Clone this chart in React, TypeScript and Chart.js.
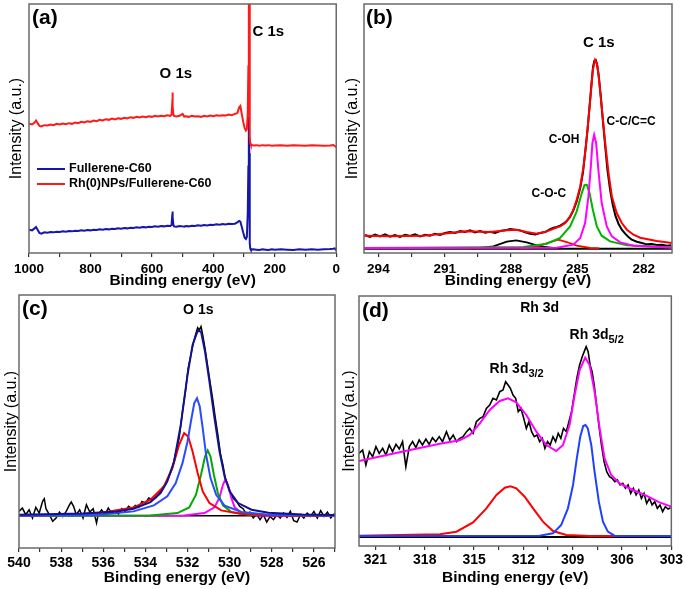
import React, { useEffect, useRef } from 'react';
import { Chart, registerables } from 'chart.js';

Chart.register(...registerables);

const FONT = '"Liberation Sans", Arial, Helvetica, sans-serif';
Chart.defaults.font.family = FONT;

// ---------------- Panel (a): survey spectra ----------------
const aEnergy = [1000,990,982,977,972,966,960,950,940,930,920,910,900,890,880,870,860,850,840,830,820,810,800,790,780,770,760,750,740,730,720,710,700,690,680,670,660,650,640,630,620,610,600,590,580,570,560,550,540,536,534,533,532,530,528,520,510,500,495,490,480,470,460,450,440,430,420,410,400,390,380,370,360,350,340,330,322,316,312,308,303,298,294,291,288,286,285,284,283,282,281,280,278,270,260,250,240,230,220,210,200,180,160,140,120,100,80,60,40,20,10,5,0];
const aRhFullerene = [388,386,392,398,390,382,380,384,383,386,384,388,386,389,387,390,388,392,390,394,392,396,394,398,396,400,398,402,400,404,401,405,403,406,404,408,406,409,407,410,408,411,409,412,410,412,411,414,412,415,445,482,440,416,412,410,412,418,410,411,409,412,410,411,409,412,410,413,411,414,412,414,413,416,414,418,420,438,442,420,395,375,368,372,420,560,760,900,820,500,350,330,325,323,324,322,324,323,324,322,323,324,322,324,323,322,324,323,322,323,324,322,318];
const aFullerene = [70,68,74,78,70,60,58,62,61,63,62,64,63,65,64,66,65,67,66,68,67,69,68,70,69,71,70,72,71,73,72,74,73,75,74,76,75,77,76,78,77,79,78,80,79,81,80,82,81,84,110,125,108,84,80,79,81,80,79,81,80,82,81,83,82,84,83,85,84,86,85,87,86,88,87,88,92,96,94,80,62,46,42,48,120,260,380,410,300,120,30,14,10,11,10,9,11,10,9,11,10,11,10,9,11,10,11,10,11,12,13,14,8];
const aMajorTicks = [1000, 800, 600, 400, 200, 0];
const aMinorTicks = [900, 700, 500, 300, 100];

// ---------------- Panel (b): C 1s ----------------
const bRawEnergy = [294.60,294.38,294.15,293.92,293.70,293.47,293.25,293.02,292.79,292.57,292.34,292.11,291.89,291.66,291.44,291.21,290.98,290.76,290.53,290.30,290.08,289.85,289.63,289.40,289.17,288.95,288.72,288.49,288.27,288.04,287.82,287.59,287.36,287.14,286.91,286.68,286.46,286.23,286.08,285.93,285.78,285.63,285.48,285.33,285.18,285.03,284.87,284.75,284.65,284.54,284.45,284.36,284.29,284.23,284.17,284.11,284.03,283.94,283.85,283.74,283.64,283.52,283.40,283.28,283.14,282.99,282.84,282.69,282.54,282.31,282.08,281.86,281.63,281.41,281.18,280.95,280.76];
const bRawIntensity = [54,48,55,50,56,49,54,48,55,51,56,50,55,52,58,54,60,63,60,66,63,68,62,66,61,64,60,66,68,72,70,68,62,58,56,60,63,72,76,78,82,88,96,108,128,155,195,240,300,370,440,510,560,578,580,568,530,470,400,320,250,190,145,112,88,70,58,48,40,34,30,26,27,24,25,22,23];
const bFitEnergy = [294.65,293.47,291.96,290.76,290.0,288.95,288.19,287.77,287.29,286.84,286.38,286.0,285.78,285.55,285.33,285.18,285.03,284.87,284.72,284.6,284.5,284.39,284.3,284.2,284.12,284.05,283.9,283.74,283.59,283.44,283.22,282.99,282.76,282.46,282.16,281.41,280.72];
const bFitIntensity = [52,50,52,60,65,63,68,70,63,58,65,75,80,90,110,130,160,200,260,330,400,480,550,580,570,540,440,330,240,170,120,90,70,55,46,36,30];
const bCCEnergy = [294.65,285.93,285.18,284.87,284.65,284.5,284.39,284.32,284.24,284.15,284.05,283.9,283.67,283.44,283.06,282.46,281.41,280.72];
const bCCIntensity = [15,16,25,45,90,170,260,330,355,330,250,150,80,50,32,22,18,16];
const bCOHEnergy = [294.65,287.44,286.38,285.78,285.33,285.03,284.8,284.68,284.57,284.45,284.3,284.12,283.9,283.52,282.76,280.72];
const bCOHIntensity = [15,18,28,45,80,125,180,204,205,180,130,80,52,35,23,17];
const bCOCEnergy = [287.6,287.29,286.69,286.23,285.86,285.48,285.03,284.42,284.0];
const bCOCIntensity = [14,15,22,33,40,33,22,15,14];
const bCOEnergy = [289.8,289.4,288.8,288.19,287.77,287.29,286.69,286.08,285.7];
const bCOIntensity = [14,15,20,34,38,32,20,15,14];
const bBaseEnergy = [294.65, 280.72];
const bBaseIntensity = [13, 13];
const bMajorTicks = [294, 291, 288, 285, 282];
const bMinorTicks = [292.5, 289.5, 286.5, 283.5];

// ---------------- Panel (c): O 1s ----------------
const cRawEnergy = [540.00,539.84,539.68,539.52,539.36,539.20,539.04,538.88,538.80,538.72,538.56,538.40,538.24,538.08,537.92,537.76,537.60,537.52,537.41,537.28,537.12,536.96,536.80,536.64,536.48,536.32,536.24,536.08,535.92,535.76,535.60,535.44,535.28,535.12,534.96,534.80,534.64,534.48,534.32,534.16,534.00,533.84,533.68,533.52,533.36,533.20,533.04,532.88,532.72,532.56,532.40,532.24,532.08,531.97,531.84,531.71,531.60,531.52,531.44,531.36,531.28,531.17,531.04,530.91,530.80,530.69,530.56,530.43,530.32,530.21,530.08,529.95,529.84,529.68,529.52,529.36,529.20,529.04,528.88,528.72,528.56,528.40,528.24,528.08,527.92,527.76,527.60,527.44,527.28,527.12,526.96,526.80,526.64,526.48,526.32,526.16,526.00,525.84,525.68,525.52,525.36,525.20,525.04,525.00];
const cRawIntensity = [110,120,100,115,90,122,105,140,148,118,100,80,90,108,95,110,130,138,125,100,115,90,130,108,118,75,100,115,100,120,105,112,102,118,110,125,118,128,122,140,135,150,145,150,162,180,192,215,240,285,330,410,480,540,580,620,645,662,655,665,640,600,545,490,445,395,340,280,250,210,188,165,150,140,125,118,100,108,90,102,85,100,78,95,85,100,90,105,92,110,82,78,100,90,105,95,110,90,112,95,108,90,102,98];
const cEnvEnergy = [540,536.96,535.36,534.56,533.76,533.28,532.96,532.64,532.32,532.0,531.76,531.52,531.36,531.17,530.96,530.72,530.48,530.24,530.0,529.6,528.96,528.16,526.56,525];
const cEnvIntensity = [100,104,110,118,138,165,200,260,370,520,610,652,650,590,500,390,290,215,170,135,115,106,101,99];
const cBlueEnergy = [540,536.16,534.56,533.6,532.96,532.56,532.24,532.0,531.84,531.68,531.55,531.42,531.28,531.12,530.91,530.64,530.24,529.44,528.16,525];
const cBlueIntensity = [97,100,110,128,155,195,255,320,380,435,450,425,360,280,210,160,127,108,100,97];
const cRedEnergy = [540,537.76,536.16,534.56,533.76,533.12,532.72,532.4,532.16,531.97,531.76,531.52,531.28,530.96,530.4,529.44,528.16,525];
const cRedIntensity = [97,100,105,122,145,185,240,310,345,335,290,225,170,135,113,102,98,97];
const cGreenEnergy = [540,533.76,532.48,531.92,531.6,531.36,531.17,531.04,530.91,530.75,530.56,530.32,529.92,529.12,525];
const cGreenIntensity = [97,98,105,122,160,220,275,293,275,220,165,128,108,100,97];
const cPinkEnergy = [540,532.16,531.2,530.72,530.48,530.32,530.21,530.08,529.92,529.76,529.44,528.64,525];
const cPinkIntensity = [97,98,105,122,152,190,205,190,150,122,105,98,97];
const cBaseEnergy = [540, 525];
const cBaseIntensity = [97, 97];
const cMajorTicks = [540, 538, 536, 534, 532, 530, 528, 526];
const cMinorTicks = [539, 537, 535, 533, 531, 529, 527, 525];

// ---------------- Panel (d): Rh 3d ----------------
const dRawEnergy = [322.00,321.78,321.58,321.37,321.17,320.97,320.77,320.56,320.36,320.16,319.96,319.75,319.55,319.35,319.15,318.94,318.74,318.54,318.34,318.14,317.93,317.73,317.53,317.33,317.12,316.92,316.68,316.48,316.27,316.07,315.87,315.67,315.46,315.26,315.06,314.86,314.65,314.45,314.25,314.05,313.85,313.64,313.44,313.24,313.08,312.93,312.79,312.63,312.47,312.31,312.15,311.98,311.82,311.66,311.50,311.34,311.17,311.01,310.85,310.69,310.53,310.37,310.20,310.04,309.88,309.72,309.56,309.39,309.23,309.07,308.91,308.75,308.58,308.42,308.30,308.18,308.06,307.94,307.82,307.69,307.57,307.41,307.25,307.09,306.93,306.76,306.60,306.44,306.28,306.12,305.95,305.79,305.63,305.47,305.31,305.14,304.98,304.82,304.66,304.50,304.33,304.17,304.01,303.85,303.69,303.53,303.36,303.20,303.04];
const dRawIntensity = [278,288,243,283,268,298,278,293,273,303,283,305,291,313,238,298,313,295,318,303,321,305,325,313,328,313,343,318,333,313,323,328,343,353,338,373,383,388,413,423,443,438,463,468,493,483,473,453,443,403,413,383,353,373,343,328,333,313,323,293,313,303,328,313,338,323,353,343,373,403,453,503,543,568,583,598,583,543,523,483,433,363,303,253,223,208,203,193,198,183,188,173,183,158,173,153,168,143,158,128,143,123,133,113,123,103,118,111,115];
const dFitEnergy = [322,319.11,317.08,315.87,315.26,314.65,314.05,313.44,312.93,312.43,311.82,311.21,310.6,310.0,309.59,309.19,308.88,308.58,308.24,307.97,307.67,307.36,307.06,306.66,306.15,305.34,304.53,303.72,303.0];
const dFitIntensity = [255,286,307,317,333,368,408,435,443,431,393,343,303,285,303,363,453,528,565,543,463,353,263,213,188,168,151,131,118];
const d32Energy = [322,317.08,316.07,315.06,314.25,313.64,313.13,312.79,312.43,311.92,311.41,310.81,310.2,309.39,307.97,303];
const d32Intensity = [31,35,43,71,113,153,175,179,173,148,113,73,45,33,30,30];
const d52Energy = [322,311.01,310.2,309.7,309.29,308.98,308.75,308.54,308.36,308.22,308.08,307.87,307.67,307.41,307.16,306.86,306.46,303];
const d52Intensity = [30,31,38,63,113,183,263,328,360,363,353,303,223,133,73,43,31,30];
const dBaseEnergy = [322, 303];
const dBaseIntensity = [27, 27];
const dMajorTicks = [321, 318, 315, 312, 309, 306, 303];
const dMinorTicks = [319.5, 316.5, 313.5, 310.5, 307.5, 304.5];

// ---------------- Helpers ----------------
type Pt = { x: number; y: number };
const pts = (xs: number[], ys: number[]): Pt[] => xs.map((x, i) => ({ x, y: ys[i] }));

const line = (label: string, xs: number[], ys: number[], color: string, width: number, order: number) => ({
  label,
  data: pts(xs, ys),
  borderColor: color,
  backgroundColor: color,
  borderWidth: width,
  pointRadius: 0,
  pointHoverRadius: 0,
  tension: 0,
  fill: false,
  order,
});

interface TextSpec { text: string; sub?: string; x: number; y: number; size: number; subSize?: number }
interface DecorSpec {
  letter: string;
  letterDx: number;
  letterDy: number;
  texts: TextSpec[];
  legend?: { dx: number; dy: number; gap: number };
}

const decorPlugin = (spec: DecorSpec) => ({
  id: 'decor',
  afterDraw(chart: any) {
    const { ctx, chartArea: ca, scales } = chart;
    ctx.save();
    ctx.strokeStyle = '#6a6a6a';
    ctx.lineWidth = 1.5;
    ctx.strokeRect(ca.left, ca.top, ca.right - ca.left, ca.bottom - ca.top);

    ctx.fillStyle = '#000';
    ctx.font = `bold 21px ${FONT}`;
    ctx.textAlign = 'left';
    ctx.textBaseline = 'top';
    ctx.fillText(spec.letter, ca.left + spec.letterDx, ca.top + spec.letterDy);

    for (const t of spec.texts) {
      const px = scales.x.getPixelForValue(t.x);
      const py = scales.y.getPixelForValue(t.y);
      ctx.font = `bold ${t.size}px ${FONT}`;
      const wMain = ctx.measureText(t.text).width;
      let wSub = 0;
      if (t.sub) {
        ctx.font = `bold ${t.subSize}px ${FONT}`;
        wSub = ctx.measureText(t.sub).width;
      }
      const x0 = px - (wMain + wSub) / 2;
      ctx.textBaseline = 'middle';
      ctx.textAlign = 'left';
      ctx.font = `bold ${t.size}px ${FONT}`;
      ctx.fillText(t.text, x0, py);
      if (t.sub) {
        ctx.font = `bold ${t.subSize}px ${FONT}`;
        ctx.fillText(t.sub, x0 + wMain, py + t.size * 0.35);
      }
    }

    if (spec.legend) {
      const lg = spec.legend;
      chart.data.datasets.forEach((ds: any, i: number) => {
        const y = ca.top + lg.dy + i * lg.gap;
        ctx.strokeStyle = ds.borderColor;
        ctx.lineWidth = 2;
        ctx.beginPath();
        ctx.moveTo(ca.left + lg.dx, y);
        ctx.lineTo(ca.left + lg.dx + 28, y);
        ctx.stroke();
        ctx.fillStyle = '#000';
        ctx.font = `bold 12.5px ${FONT}`;
        ctx.textBaseline = 'middle';
        ctx.textAlign = 'left';
        ctx.fillText(ds.label, ca.left + lg.dx + 32, y);
      });
    }
    ctx.restore();
  },
});

interface PanelSpec {
  datasets: any[];
  xMin: number; xMax: number; yMax: number;
  major: number[]; minor: number[];
  tickSize: number; tickPad: number;
  padTop: number; padRight: number;
  xHeight: number; yWidth: number;
  xTitlePad: number; yTitlePad: number;
  decor: DecorSpec;
}

const buildConfig = (p: PanelSpec): any => ({
  type: 'line',
  data: { datasets: p.datasets },
  options: {
    animation: false,
    responsive: false,
    maintainAspectRatio: false,
    events: [],
    layout: { padding: { top: p.padTop, right: p.padRight, bottom: 0, left: 0 } },
    plugins: { legend: { display: false }, tooltip: { enabled: false } },
    scales: {
      x: {
        type: 'linear',
        reverse: true,
        min: p.xMin,
        max: p.xMax,
        afterBuildTicks: (s: any) => {
          s.ticks = [...p.major, ...p.minor].sort((a, b) => b - a).map((v) => ({ value: v }));
        },
        afterFit: (s: any) => { s.height = p.xHeight; },
        ticks: {
          autoSkip: false,
          maxRotation: 0,
          minRotation: 0,
          padding: p.tickPad,
          color: '#000',
          font: { family: FONT, size: p.tickSize, weight: 'bold' },
          callback: (v: number) => (p.major.includes(v) ? String(v) : ''),
        },
        grid: { display: true, drawOnChartArea: false, drawTicks: true, tickLength: 4, color: '#333', lineWidth: 1.2 },
        border: { display: false },
        title: {
          display: true,
          text: 'Binding energy (eV)',
          color: '#000',
          font: { family: FONT, size: 15.5, weight: 'bold' },
          padding: { top: 0, bottom: p.xTitlePad },
        },
      },
      y: {
        type: 'linear',
        min: 0,
        max: p.yMax,
        afterFit: (s: any) => { s.width = p.yWidth; },
        ticks: { display: false },
        grid: { display: false },
        border: { display: false },
        title: {
          display: true,
          text: 'Intensity (a.u.)',
          color: '#000',
          font: { family: FONT, size: 16, weight: 'normal' },
          padding: { top: p.yTitlePad, bottom: 0 },
        },
      },
    },
  },
  plugins: [decorPlugin(p.decor)],
});

const panelA = (): PanelSpec => ({
  datasets: [
    line('Fullerene-C60', aEnergy, aFullerene, '#1616a8', 2, 2),
    line('Rh(0)NPs/Fullerene-C60', aEnergy, aRhFullerene, '#ff1a1a', 2, 1),
  ],
  xMin: 0, xMax: 1000, yMax: 748,
  major: aMajorTicks, minor: aMinorTicks,
  tickSize: 13.5, tickPad: 4,
  padTop: 4, padRight: 4, xHeight: 37, yWidth: 29,
  xTitlePad: 0, yTitlePad: 7,
  decor: {
    letter: '(a)', letterDx: 3, letterDy: 4,
    texts: [
      { text: 'C 1s', x: 221, y: 663, size: 15 },
      { text: 'O 1s', x: 522, y: 538, size: 15 },
    ],
    legend: { dx: 8, dy: 165, gap: 15 },
  },
});

const panelB = (): PanelSpec => ({
  datasets: [
    line('C-C/C=C', bCCEnergy, bCCIntensity, '#ff00ff', 2, 1),
    line('C-OH', bCOHEnergy, bCOHIntensity, '#00b400', 2, 2),
    line('C-O-C', bCOCEnergy, bCOCIntensity, '#ff0000', 1.8, 3),
    line('C=O', bCOEnergy, bCOIntensity, '#000000', 1.8, 4),
    line('Fit', bFitEnergy, bFitIntensity, '#ff0000', 2, 5),
    line('Raw', bRawEnergy, bRawIntensity, '#000000', 2, 6),
    line('Baseline', bBaseEnergy, bBaseIntensity, '#000000', 2, 7),
  ],
  xMin: 280.72, xMax: 294.65, yMax: 748,
  major: bMajorTicks, minor: bMinorTicks,
  tickSize: 13.5, tickPad: 4,
  padTop: 4, padRight: 13, xHeight: 37, yWidth: 24,
  xTitlePad: 0, yTitlePad: 3,
  decor: {
    letter: '(b)', letterDx: 2, letterDy: 4,
    texts: [
      { text: 'C 1s', x: 284.03, y: 630, size: 15 },
      { text: 'C-C/C=C', x: 282.57, y: 395, size: 12 },
      { text: 'C-OH', x: 285.6, y: 340, size: 12 },
      { text: 'C-O-C', x: 286.29, y: 177, size: 12 },
    ],
  },
});

const panelC = (): PanelSpec => ({
  datasets: [
    line('Envelope', cEnvEnergy, cEnvIntensity, '#12128e', 2, 1),
    line('Peak 1', cBlueEnergy, cBlueIntensity, '#2a4bff', 2, 2),
    line('Peak 2', cRedEnergy, cRedIntensity, '#ff0000', 2, 3),
    line('Peak 3', cGreenEnergy, cGreenIntensity, '#00aa00', 2, 4),
    line('Peak 4', cPinkEnergy, cPinkIntensity, '#ff00ff', 2, 5),
    line('Raw', cRawEnergy, cRawIntensity, '#000000', 1.5, 6),
    line('Baseline', cBaseEnergy, cBaseIntensity, '#000000', 1.5, 7),
  ],
  xMin: 525, xMax: 540, yMax: 760,
  major: cMajorTicks, minor: cMinorTicks,
  tickSize: 14, tickPad: 3,
  padTop: 5, padRight: 9, xHeight: 41, yWidth: 19,
  xTitlePad: 2, yTitlePad: 2,
  decor: {
    letter: '(c)', letterDx: 3, letterDy: 4,
    texts: [{ text: 'O 1s', x: 531.49, y: 715, size: 14 }],
  },
});

const panelD = (): PanelSpec => ({
  datasets: [
    line('Fit', dFitEnergy, dFitIntensity, '#ff00ff', 2, 1),
    line('Rh 3d5/2', d52Energy, d52Intensity, '#2040ff', 2, 2),
    line('Rh 3d3/2', d32Energy, d32Intensity, '#ff0000', 2, 3),
    line('Raw', dRawEnergy, dRawIntensity, '#000000', 1.6, 4),
    line('Baseline', dBaseEnergy, dBaseIntensity, '#000000', 2, 5),
  ],
  xMin: 303, xMax: 322, yMax: 750,
  major: dMajorTicks, minor: dMinorTicks,
  tickSize: 14, tickPad: 2,
  padTop: 6, padRight: 13, xHeight: 43, yWidth: 19,
  xTitlePad: 2, yTitlePad: 0,
  decor: {
    letter: '(d)', letterDx: 3, letterDy: 5,
    texts: [
      { text: 'Rh 3d', x: 311.01, y: 713, size: 14 },
      { text: 'Rh 3d', sub: '5/2', x: 307.54, y: 633, size: 14, subSize: 11 },
      { text: 'Rh 3d', sub: '3/2', x: 312.41, y: 531, size: 14, subSize: 11 },
    ],
  },
});

function Panel({ left, top, width, height, spec }: { left: number; top: number; width: number; height: number; spec: () => PanelSpec }) {
  const ref = useRef<HTMLCanvasElement>(null);
  useEffect(() => {
    const chart = new Chart(ref.current as HTMLCanvasElement, buildConfig(spec()));
    return () => chart.destroy();
  }, []);
  return (
    <canvas
      ref={ref}
      width={width}
      height={height}
      style={{ position: 'absolute', left, top, width, height }}
    />
  );
}

export default function App() {
  return (
    <div style={{ position: 'absolute', left: 0, top: 0, width: 685, height: 589, background: '#fff', overflow: 'hidden' }}>
      <Panel left={0} top={0} width={344} height={290} spec={panelA} />
      <Panel left={340} top={0} width={345} height={290} spec={panelB} />
      <Panel left={0} top={290} width={344} height={299} spec={panelC} />
      <Panel left={340} top={290} width={345} height={299} spec={panelD} />
    </div>
  );
}
